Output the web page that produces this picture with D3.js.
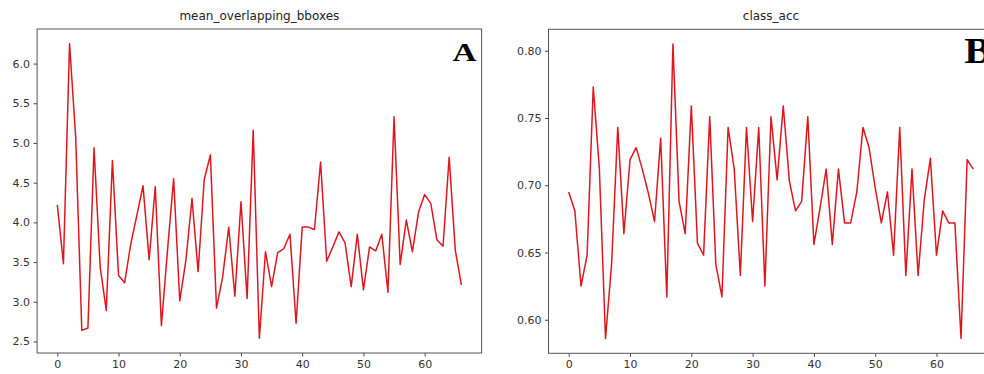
<!DOCTYPE html>
<html lang="en">
<head>
<meta charset="UTF-8">
<title>mean_overlapping_bboxes / class_acc</title>
<script src="https://cdn.jsdelivr.net/npm/d3@7"></script>
<style>
  body { margin: 0; background: #fff; }
  svg { display: block; }
  .tick text { font-family: "DejaVu Sans", sans-serif; font-size: 11px; fill: #333; }
  .tick line { stroke: #444; }
  .title { font-family: "DejaVu Sans", sans-serif; font-size: 12px; fill: #222; }
  .panel-label { font-family: "Liberation Serif", "Times New Roman", serif; font-weight: bold; fill: #000; }
</style>
</head>
<body>
<div id="chart"></div>
<script>
// values (epoch 0..66)
var overlapValues = [
  4.22, 3.48, 6.25, 5.08, 2.64, 2.67, 4.94, 3.44, 2.89, 4.78,
  3.33, 3.24, 3.73, 4.09, 4.46, 3.53, 4.45, 2.70, 3.65, 4.55,
  3.01, 3.52, 4.30, 3.38, 4.54, 4.85, 2.92, 3.31, 3.94, 3.07,
  4.26, 3.04, 5.16, 2.54, 3.63, 3.19, 3.62, 3.67, 3.85, 2.73,
  3.94, 3.94, 3.91, 4.76, 3.51, 3.69, 3.88, 3.74, 3.19, 3.85,
  3.15, 3.69, 3.64, 3.85, 3.12, 5.33, 3.47, 4.03, 3.63, 4.13,
  4.35, 4.24, 3.78, 3.70, 4.82, 3.65, 3.21
];
var classAccValues = [
  0.695, 0.681, 0.625, 0.648, 0.773, 0.712, 0.586, 0.642, 0.743, 0.664,
  0.719, 0.728, 0.712, 0.694, 0.673, 0.735, 0.617, 0.805, 0.688, 0.664,
  0.759, 0.657, 0.648, 0.751, 0.641, 0.617, 0.743, 0.712, 0.633, 0.743,
  0.673, 0.743, 0.625, 0.751, 0.704, 0.759, 0.703, 0.681, 0.688, 0.751,
  0.656, 0.683, 0.712, 0.656, 0.712, 0.672, 0.672, 0.695, 0.743, 0.728,
  0.698, 0.672, 0.695, 0.648, 0.743, 0.633, 0.712, 0.633, 0.689, 0.720,
  0.648, 0.681, 0.672, 0.672, 0.586, 0.719, 0.712
];
var xTicks = [0, 10, 20, 30, 40, 50, 60];
var overlapTicks = [2.5, 3.0, 3.5, 4.0, 4.5, 5.0, 5.5, 6.0];
var classAccTicks = [0.60, 0.65, 0.70, 0.75, 0.80];

var W = 984, H = 374;
var svg = d3.select("#chart").append("svg")
    .attr("width", W)
    .attr("height", H);
svg.append("rect").attr("width", W).attr("height", H).attr("fill", "#fff");

// matplotlib-like 5% margins round the data
function padded(ext) {
  var m = (ext[1] - ext[0]) * 0.05;
  return [ext[0] - m, ext[1] + m];
}

function drawPanel(opts) {
  var values = opts.values;
  var x = d3.scaleLinear()
      .domain(padded([0, values.length - 1]))
      .range([opts.left, opts.right]);
  var y = d3.scaleLinear()
      .domain(padded(d3.extent(values)))
      .range([opts.bottom, opts.top]);

  var g = svg.append("g");

  g.append("g")
      .attr("transform", "translate(0," + opts.bottom + ")")
      .call(d3.axisBottom(x).tickValues(xTicks).tickSize(3.5).tickPadding(3.5).tickFormat(d3.format("d")))
      .call(function (a) { a.select(".domain").remove(); });

  g.append("g")
      .attr("transform", "translate(" + opts.left + ",0)")
      .call(d3.axisLeft(y).tickValues(opts.yTicks).tickSize(3.5).tickPadding(3.5).tickFormat(d3.format(opts.fmt)))
      .call(function (a) { a.select(".domain").remove(); });

  var line = d3.line()
      .x(function (d, i) { return x(i); })
      .y(function (d) { return y(d); });

  g.append("path")
      .datum(values)
      .attr("fill", "none")
      .attr("stroke", "#e0161e")
      .attr("stroke-width", 1.5)
      .attr("stroke-linejoin", "round")
      .attr("d", line);

  // frame
  g.append("rect")
      .attr("x", opts.left)
      .attr("y", opts.top)
      .attr("width", opts.right - opts.left)
      .attr("height", opts.bottom - opts.top)
      .attr("fill", "none")
      .attr("stroke", "#555")
      .attr("stroke-width", 1);

  g.append("text")
      .attr("class", "title")
      .attr("x", (opts.left + opts.right) / 2)
      .attr("y", 20)
      .attr("text-anchor", "middle")
      .text(opts.title);

  g.append("text")
      .attr("class", "panel-label")
      .attr("x", opts.labelX)
      .attr("y", opts.labelY)
      .attr("font-size", opts.labelSize)
      .attr("textLength", opts.labelWidth)
      .attr("lengthAdjust", "spacingAndGlyphs")
      .text(opts.label);
}

drawPanel({
  values: overlapValues, yTicks: overlapTicks, fmt: ".1f",
  left: 37.1, right: 481.6, top: 29, bottom: 353,
  title: "mean_overlapping_bboxes",
  label: "A", labelX: 452.5, labelY: 60.5, labelSize: 26, labelWidth: 24
});

drawPanel({
  values: classAccValues, yTicks: classAccTicks, fmt: ".2f",
  left: 548.5, right: 993.5, top: 29.3, bottom: 353.3,
  title: "class_acc",
  label: "B", labelX: 964.3, labelY: 62.5, labelSize: 35, labelWidth: 27
});
</script>
</body>
</html>
